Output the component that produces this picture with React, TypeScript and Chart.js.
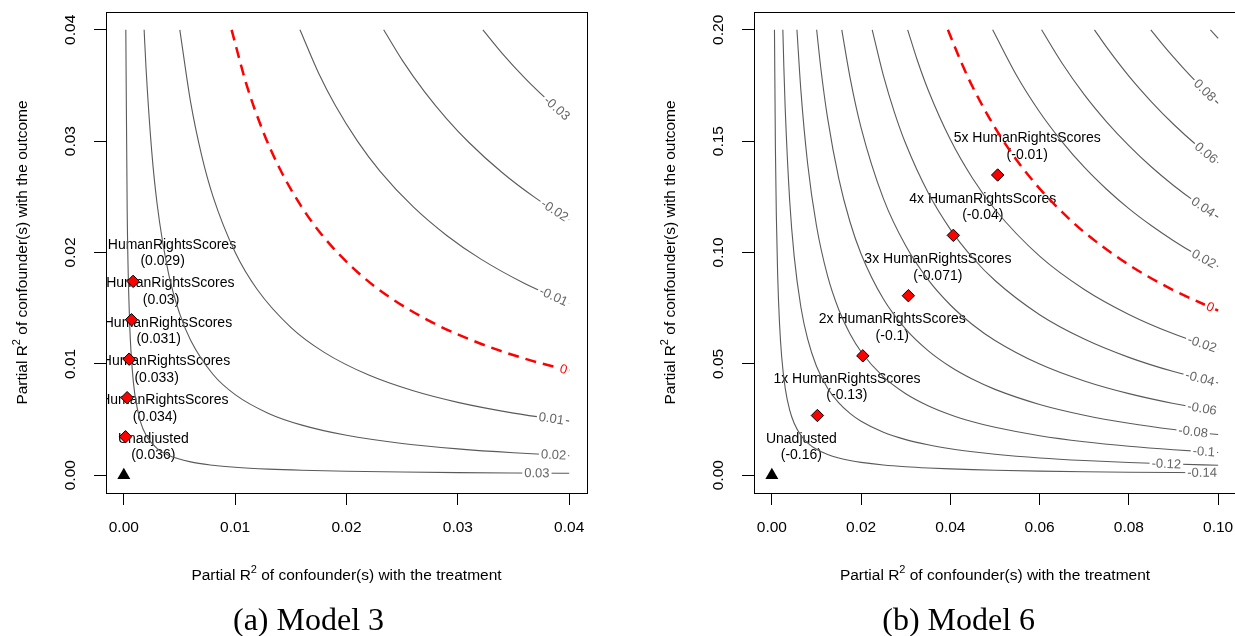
import React, { useEffect, useRef } from "react";
import { Chart, registerables } from "chart.js";

Chart.register(...registerables);

const FONT = '"Liberation Sans", Arial, Helvetica, sans-serif';
const SERIF = '"Liberation Serif", "Times New Roman", serif';

const titleHead = "Partial R";
const titleSup = "2";
const xTitleTail = " of confounder(s) with the treatment";
const yTitleTail = " of confounder(s) with the outcome";

// ---------------- Model 3 ----------------
const m3XTicks = [0, 0.01, 0.02, 0.03, 0.04];
const m3XTickLabels = ["0.00", "0.01", "0.02", "0.03", "0.04"];
const m3YTicks = [0, 0.01, 0.02, 0.03, 0.04];
const m3YTickLabels = ["0.00", "0.01", "0.02", "0.03", "0.04"];
const m3Levels = ["0.03", "0.02", "0.01", "0", "-0.01", "-0.02", "-0.03"];
const m3CurveX = [
  [0.00018, 0.0003, 0.0005, 0.00075, 0.001, 0.0015, 0.002, 0.003, 0.004, 0.006, 0.008, 0.01, 0.013, 0.016, 0.02, 0.025, 0.03, 0.035, 0.04],
  [0.001824, 0.002, 0.0025, 0.003, 0.004, 0.005, 0.006, 0.008, 0.01, 0.013, 0.016, 0.02, 0.025, 0.03, 0.035, 0.04],
  [0.00503, 0.006, 0.007, 0.008, 0.01, 0.012, 0.015, 0.018, 0.022, 0.026, 0.03, 0.035, 0.04],
  [0.00968, 0.011, 0.0125, 0.014, 0.016, 0.018, 0.021, 0.024, 0.028, 0.032, 0.036, 0.04],
  [0.01582, 0.0175, 0.019, 0.021, 0.023, 0.026, 0.029, 0.032, 0.036, 0.04],
  [0.02334, 0.025, 0.027, 0.029, 0.031, 0.034, 0.037, 0.04],
  [0.03225, 0.034, 0.036, 0.038, 0.04],
];
const m3CurveY = [
  [0.04, 0.02399, 0.01439, 0.009593, 0.007193, 0.004793, 0.003593, 0.002393, 0.001793, 0.001193, 0.000893, 0.000713, 0.000547, 0.000443, 0.000353, 0.000281, 0.000233, 0.000199, 0.000173],
  [0.04, 0.03648, 0.02917, 0.02429, 0.0182, 0.01455, 0.01211, 0.009064, 0.007237, 0.00555, 0.004496, 0.003582, 0.002851, 0.002364, 0.002015, 0.001754],
  [0.04, 0.0335, 0.02868, 0.02507, 0.02002, 0.01665, 0.01328, 0.01103, 0.008989, 0.007575, 0.006538, 0.005575, 0.004853],
  [0.04, 0.03515, 0.03089, 0.02754, 0.02405, 0.02133, 0.01823, 0.0159, 0.01357, 0.01183, 0.01047, 0.009384],
  [0.04, 0.0361, 0.0332, 0.02998, 0.02731, 0.02409, 0.02153, 0.01945, 0.01722, 0.01543],
  [0.04, 0.03728, 0.03445, 0.03201, 0.02988, 0.02716, 0.02488, 0.02294],
  [0.04, 0.03787, 0.03569, 0.03375, 0.03199],
];
const m3LabelX = [0.0371, 0.0386, 0.0384, 0.0395, 0.0386, 0.0387, 0.0389];
const m3BoundX = [0.000153, 0.000297, 0.000476, 0.000692, 0.000836];
const m3BoundY = [0.00345, 0.00696, 0.01042, 0.01396, 0.01741];
const m3BoundNames = ["1x HumanRightsScores", "2x HumanRightsScores", "3x HumanRightsScores", "4x HumanRightsScores", "5x HumanRightsScores"];
const m3BoundEst = ["(0.034)", "(0.033)", "(0.031)", "(0.03)", "(0.029)"];
const m3UnadjEst = "(0.036)";

// ---------------- Model 6 ----------------
const m6XTicks = [0, 0.02, 0.04, 0.06, 0.08, 0.1];
const m6XTickLabels = ["0.00", "0.02", "0.04", "0.06", "0.08", "0.10"];
const m6YTicks = [0, 0.05, 0.1, 0.15, 0.2];
const m6YTickLabels = ["0.00", "0.05", "0.10", "0.15", "0.20"];
const m6Levels = ["-0.14", "-0.12", "-0.1", "-0.08", "-0.06", "-0.04", "-0.02", "0", "0.02", "0.04", "0.06", "0.08", "0.1"];
const m6CurveX = [
  [0.000586, 0.0008, 0.001, 0.0013, 0.0017, 0.0022, 0.003, 0.004, 0.005, 0.0065, 0.008, 0.01, 0.0125, 0.015, 0.0175, 0.02, 0.025, 0.03, 0.035, 0.04, 0.045, 0.05, 0.06, 0.07, 0.08, 0.09, 0.1],
  [0.002465, 0.0027, 0.003, 0.004, 0.005, 0.0065, 0.008, 0.01, 0.0125, 0.015, 0.0175, 0.02, 0.025, 0.03, 0.035, 0.04, 0.045, 0.05, 0.06, 0.07, 0.08, 0.09, 0.1],
  [0.005623, 0.0065, 0.008, 0.01, 0.0125, 0.015, 0.0175, 0.02, 0.025, 0.03, 0.035, 0.04, 0.045, 0.05, 0.06, 0.07, 0.08, 0.09, 0.1],
  [0.010037, 0.011, 0.0125, 0.015, 0.0175, 0.02, 0.025, 0.03, 0.035, 0.04, 0.045, 0.05, 0.06, 0.07, 0.08, 0.09, 0.1],
  [0.015672, 0.0175, 0.02, 0.025, 0.03, 0.035, 0.04, 0.045, 0.05, 0.06, 0.07, 0.08, 0.09, 0.1],
  [0.022487, 0.025, 0.0275, 0.03, 0.035, 0.04, 0.045, 0.05, 0.06, 0.07, 0.08, 0.09, 0.1],
  [0.030432, 0.0325, 0.035, 0.04, 0.045, 0.05, 0.06, 0.07, 0.08, 0.09, 0.1],
  [0.039449, 0.0425, 0.045, 0.05, 0.055, 0.06, 0.065, 0.07, 0.08, 0.09, 0.1],
  [0.049475, 0.055, 0.06, 0.065, 0.07, 0.075, 0.08, 0.085, 0.09, 0.095, 0.1],
  [0.060442, 0.065, 0.07, 0.075, 0.08, 0.085, 0.09, 0.095, 0.1],
  [0.072283, 0.075, 0.08, 0.085, 0.09, 0.095, 0.1],
  [0.084915, 0.0875, 0.09, 0.0925, 0.095, 0.0975, 0.1],
  [0.098267, 0.1],
];
const m6CurveY = [
  [0.2, 0.1465, 0.1172, 0.09011, 0.06888, 0.0532, 0.03898, 0.02921, 0.02334, 0.01793, 0.01455, 0.01161, 0.009267, 0.007703, 0.006586, 0.005748, 0.004575, 0.003793, 0.003234, 0.002815, 0.002489, 0.002229, 0.001838, 0.001558, 0.001349, 0.001186, 0.001056],
  [0.2, 0.1825, 0.1642, 0.1231, 0.09835, 0.07554, 0.06128, 0.04893, 0.03904, 0.03245, 0.02775, 0.02422, 0.01927, 0.01598, 0.01363, 0.01186, 0.01049, 0.00939, 0.007743, 0.006566, 0.005683, 0.004997, 0.004448],
  [0.2, 0.1729, 0.1402, 0.112, 0.08935, 0.07427, 0.0635, 0.05542, 0.04411, 0.03657, 0.03118, 0.02714, 0.024, 0.02149, 0.01772, 0.01503, 0.01301, 0.01144, 0.01018],
  [0.2, 0.1823, 0.1602, 0.1332, 0.1138, 0.09936, 0.07908, 0.06556, 0.05591, 0.04866, 0.04303, 0.03853, 0.03177, 0.02694, 0.02332, 0.0205, 0.01825],
  [0.2, 0.1788, 0.156, 0.1242, 0.103, 0.0878, 0.07642, 0.06758, 0.0605, 0.04989, 0.04231, 0.03662, 0.0322, 0.02866],
  [0.2, 0.1794, 0.1627, 0.1488, 0.1269, 0.1104, 0.09764, 0.08742, 0.07208, 0.06113, 0.05291, 0.04652, 0.04141],
  [0.2, 0.1869, 0.1731, 0.1507, 0.1332, 0.1193, 0.09835, 0.0834, 0.07219, 0.06347, 0.0565],
  [0.2, 0.1851, 0.1743, 0.1561, 0.1411, 0.1287, 0.1182, 0.1091, 0.09446, 0.08305, 0.07392],
  [0.2, 0.1789, 0.1631, 0.1498, 0.1383, 0.1284, 0.1197, 0.1121, 0.1053, 0.09917, 0.09369],
  [0.2, 0.1851, 0.1709, 0.1587, 0.148, 0.1385, 0.1301, 0.1226, 0.1158],
  [0.2, 0.1922, 0.1792, 0.1678, 0.1576, 0.1485, 0.1403],
  [0.2, 0.1936, 0.1877, 0.1821, 0.1768, 0.1718, 0.167],
  [0.2, 0.1962],
];
const m6LabelX = [0.0964, 0.0884, 0.0968, 0.0944, 0.0964, 0.0959, 0.0964, 0.0982, 0.0968, 0.0966, 0.0973, 0.097, null];
const m6BoundX = [0.01021, 0.02038, 0.03059, 0.04066, 0.0506];
const m6BoundY = [0.0268, 0.0536, 0.0806, 0.1077, 0.1348];
const m6BoundNames = ["1x HumanRightsScores", "2x HumanRightsScores", "3x HumanRightsScores", "4x HumanRightsScores", "5x HumanRightsScores"];
const m6BoundEst = ["(-0.13)", "(-0.1)", "(-0.071)", "(-0.04)", "(-0.01)"];
const m6UnadjEst = "(-0.16)";

const unadjName = "Unadjusted";

type PanelProps = {
  left: number;
  padRight: number;
  xMin: number; xMax: number; yMin: number; yMax: number;
  xTicks: number[]; xTickLabels: string[];
  yTicks: number[]; yTickLabels: string[];
  levels: string[]; curveX: number[][]; curveY: number[][];
  labelX: (number | null)[];
  boundX: number[]; boundY: number[]; boundNames: string[]; boundEst: string[];
  unadjEst: string;
};

const CW = 648;
const CH = 636;
const AREA_BOTTOM = 493;
const AREA_TOP = 12;
const AREA_LEFT = 106;

function drawTitle(ctx: CanvasRenderingContext2D, cx: number, cy: number, rotate: boolean, tail: string) {
  ctx.save();
  ctx.translate(cx, cy);
  if (rotate) ctx.rotate(-Math.PI / 2);
  const main = `15.5px ${FONT}`;
  const sup = `11px ${FONT}`;
  ctx.font = main;
  const w1 = ctx.measureText(titleHead).width;
  const w3 = ctx.measureText(tail).width;
  ctx.font = sup;
  const w2 = ctx.measureText(titleSup).width;
  let x = -(w1 + w2 + w3) / 2;
  ctx.textBaseline = "middle";
  ctx.textAlign = "left";
  ctx.fillStyle = "#000";
  ctx.font = main;
  ctx.fillText(titleHead, x, 0);
  x += w1;
  ctx.font = sup;
  ctx.fillText(titleSup, x, -6);
  x += w2;
  ctx.font = main;
  ctx.fillText(tail, x, 0);
  ctx.restore();
}

function Panel(p: PanelProps) {
  const ref = useRef<HTMLCanvasElement>(null);
  useEffect(() => {
    if (!ref.current) return;
    const curves = p.curveX.map((xs, i) => {
      const red = p.levels[i] === "0";
      return {
        label: p.levels[i],
        data: xs.map((x, j) => ({ x, y: p.curveY[i][j] })),
        showLine: true,
        pointRadius: 0,
        pointHoverRadius: 0,
        borderColor: red ? "#ff0000" : "#5a5a5a",
        borderWidth: red ? 2.5 : 1.1,
        borderDash: red ? [11, 7] : [],
        cubicInterpolationMode: "monotone" as const,
        fill: false,
      };
    });
    const datasets: any[] = [
      {
        label: "bounds",
        data: p.boundX.map((x, i) => ({ x, y: p.boundY[i] })),
        pointStyle: "rectRot",
        pointRadius: 6.2,
        backgroundColor: "#ff0000",
        borderColor: "#000000",
        borderWidth: 1,
        showLine: false,
      },
      {
        label: "unadjusted",
        data: [{ x: 0, y: 0 }],
        pointStyle: "triangle",
        pointRadius: 7.5,
        backgroundColor: "#000000",
        borderColor: "#000000",
        borderWidth: 0,
        showLine: false,
      },
      ...curves,
    ];

    const decor = {
      id: "decor",
      beforeDatasetsDraw(chart: any) {
        const ctx: CanvasRenderingContext2D = chart.ctx;
        const a = chart.chartArea;
        const xs = chart.scales.x;
        const ys = chart.scales.y;
        ctx.save();
        ctx.beginPath();
        ctx.rect(a.left, a.top, a.right - a.left, a.bottom - a.top);
        ctx.clip();
        ctx.font = `14px ${FONT}`;
        ctx.fillStyle = "#000";
        ctx.textAlign = "center";
        ctx.textBaseline = "middle";
        const items = [
          { x: 0, y: 0, l1: unadjName, l2: p.unadjEst },
          ...p.boundX.map((x, i) => ({ x, y: p.boundY[i], l1: p.boundNames[i], l2: p.boundEst[i] })),
        ];
        items.forEach((it) => {
          const px = xs.getPixelForValue(it.x) + 29.5;
          const py = ys.getPixelForValue(it.y);
          ctx.fillText(it.l1, px, py - 36.5);
          ctx.fillText(it.l2, px, py - 20);
        });
        ctx.restore();
      },
      afterDatasetsDraw(chart: any) {
        const ctx: CanvasRenderingContext2D = chart.ctx;
        const a = chart.chartArea;
        const xs = chart.scales.x;
        const ys = chart.scales.y;
        ctx.save();
        ctx.beginPath();
        ctx.rect(a.left, a.top, a.right - a.left, a.bottom - a.top);
        ctx.clip();
        ctx.font = `13px ${FONT}`;
        ctx.textAlign = "center";
        ctx.textBaseline = "middle";
        p.levels.forEach((lev, i) => {
          const lx = p.labelX[i];
          if (lx == null) return;
          const cx = p.curveX[i];
          const cy = p.curveY[i];
          let j = 0;
          while (j < cx.length - 2 && cx[j + 1] < lx) j++;
          const x0 = xs.getPixelForValue(cx[j]);
          const y0 = ys.getPixelForValue(cy[j]);
          const x1 = xs.getPixelForValue(cx[j + 1]);
          const y1 = ys.getPixelForValue(cy[j + 1]);
          const t = (lx - cx[j]) / (cx[j + 1] - cx[j]);
          const px = x0 + (x1 - x0) * t;
          const py = y0 + (y1 - y0) * t;
          const ang = Math.atan2(y1 - y0, x1 - x0);
          const w = ctx.measureText(lev).width;
          ctx.save();
          ctx.translate(px, py);
          ctx.rotate(ang);
          ctx.fillStyle = "#ffffff";
          ctx.fillRect(-w / 2 - 2, -5, w + 4, 10);
          ctx.fillStyle = lev === "0" ? "#ff0000" : "#666666";
          ctx.fillText(lev, 0, 0.5);
          ctx.restore();
        });
        ctx.restore();
      },
      afterDraw(chart: any) {
        const ctx: CanvasRenderingContext2D = chart.ctx;
        const a = chart.chartArea;
        const xs = chart.scales.x;
        const ys = chart.scales.y;
        ctx.save();
        ctx.strokeStyle = "#000";
        ctx.lineWidth = 1;
        ctx.strokeRect(a.left + 0.5, a.top + 0.5, a.right - a.left, a.bottom - a.top);
        ctx.fillStyle = "#000";
        ctx.font = `15.5px ${FONT}`;
        ctx.textAlign = "center";
        ctx.textBaseline = "middle";
        p.xTicks.forEach((v, i) => {
          ctx.fillText(p.xTickLabels[i], xs.getPixelForValue(v), 528);
        });
        p.yTicks.forEach((v, i) => {
          ctx.save();
          ctx.translate(71, ys.getPixelForValue(v));
          ctx.rotate(-Math.PI / 2);
          ctx.fillText(p.yTickLabels[i], 0, 0);
          ctx.restore();
        });
        ctx.restore();
        drawTitle(ctx, (a.left + a.right) / 2, 576, false, xTitleTail);
        drawTitle(ctx, 23, (a.top + a.bottom) / 2, true, yTitleTail);
      },
    };

    const chart = new Chart(ref.current, {
      type: "scatter",
      data: { datasets },
      options: {
        animation: false,
        responsive: false,
        maintainAspectRatio: false,
        events: [],
        layout: { padding: { left: 0, top: AREA_TOP, right: p.padRight, bottom: 0 } },
        plugins: { legend: { display: false }, tooltip: { enabled: false } },
        scales: {
          x: {
            type: "linear",
            min: p.xMin,
            max: p.xMax,
            afterBuildTicks: (s: any) => {
              s.ticks = p.xTicks.map((v) => ({ value: v }));
            },
            afterFit: (s: any) => {
              s.height = CH - AREA_BOTTOM;
            },
            grid: { drawOnChartArea: false, drawTicks: true, tickLength: 12, color: "#000", tickColor: "#000", lineWidth: 1 },
            border: { display: false },
            ticks: { display: false },
          },
          y: {
            type: "linear",
            min: p.yMin,
            max: p.yMax,
            afterBuildTicks: (s: any) => {
              s.ticks = p.yTicks.map((v) => ({ value: v }));
            },
            afterFit: (s: any) => {
              s.width = AREA_LEFT;
            },
            grid: { drawOnChartArea: false, drawTicks: true, tickLength: 12, color: "#000", tickColor: "#000", lineWidth: 1 },
            border: { display: false },
            ticks: { display: false },
          },
        },
      } as any,
      plugins: [decor],
    });
    return () => chart.destroy();
  }, []);
  return (
    <canvas
      ref={ref}
      width={CW}
      height={CH}
      style={{ position: "absolute", left: p.left, top: 0, width: CW, height: CH }}
    />
  );
}

const captionA = "(a) Model 3";
const captionB = "(b) Model 6";

export default function App() {
  const capStyle = (cx: number): React.CSSProperties => ({
    position: "absolute",
    left: cx - 150,
    top: 601,
    width: 300,
    textAlign: "center",
    fontFamily: SERIF,
    fontSize: 32,
    lineHeight: "36px",
    color: "#000",
  });
  return (
    <div style={{ position: "fixed", left: 0, top: 0, width: 1235, height: 636, overflow: "hidden", background: "#fff" }}>
      <Panel
        left={0}
        padRight={61}
        xMin={-0.0016} xMax={0.0416} yMin={-0.0016} yMax={0.0416}
        xTicks={m3XTicks} xTickLabels={m3XTickLabels}
        yTicks={m3YTicks} yTickLabels={m3YTickLabels}
        levels={m3Levels} curveX={m3CurveX} curveY={m3CurveY} labelX={m3LabelX}
        boundX={m3BoundX} boundY={m3BoundY} boundNames={m3BoundNames} boundEst={m3BoundEst}
        unadjEst={m3UnadjEst}
      />
      <Panel
        left={648}
        padRight={60}
        xMin={-0.004} xMax={0.104} yMin={-0.008} yMax={0.208}
        xTicks={m6XTicks} xTickLabels={m6XTickLabels}
        yTicks={m6YTicks} yTickLabels={m6YTickLabels}
        levels={m6Levels} curveX={m6CurveX} curveY={m6CurveY} labelX={m6LabelX}
        boundX={m6BoundX} boundY={m6BoundY} boundNames={m6BoundNames} boundEst={m6BoundEst}
        unadjEst={m6UnadjEst}
      />
      <div style={capStyle(308.5)}>{captionA}</div>
      <div style={capStyle(958.7)}>{captionB}</div>
    </div>
  );
}
